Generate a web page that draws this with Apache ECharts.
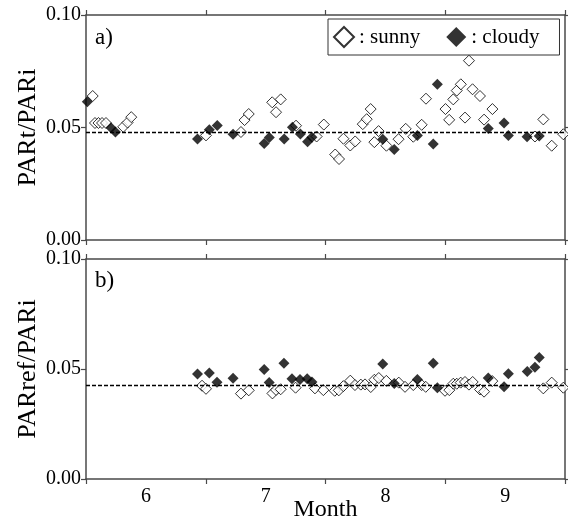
<!DOCTYPE html>
<html>
<head>
<meta charset="utf-8">
<script src="https://cdn.jsdelivr.net/npm/echarts@6/dist/echarts.min.js"></script>
<style>
  html, body { margin: 0; padding: 0; background: #fff; }
  #chart { width: 568px; height: 523px; }
</style>
</head>
<body>
<div id="chart"></div>
<script>
// ---- data ----
const months = ['6', '7', '8', '9'];
const yTicks = [0, 0.05, 0.10];

const aSunnyX = [6.056, 6.075, 6.104, 6.134, 6.167, 6.311, 6.347, 6.378, 7.002, 7.294, 7.324, 7.359, 7.555, 7.587, 7.626, 7.754, 7.926, 7.986, 8.081, 8.113, 8.150, 8.207, 8.248, 8.311, 8.344, 8.377, 8.408, 8.443, 8.509, 8.610, 8.670, 8.733, 8.803, 8.839, 9.002, 9.033, 9.067, 9.096, 9.130, 9.165, 9.198, 9.228, 9.290, 9.324, 9.394, 9.749, 9.819, 9.889, 9.986];
const aSunnyY = [0.064, 0.052, 0.052, 0.052, 0.052, 0.0503, 0.0522, 0.0546, 0.0465, 0.048, 0.0533, 0.056, 0.0612, 0.0568, 0.0625, 0.0508, 0.046, 0.0513, 0.038, 0.036, 0.045, 0.042, 0.0438, 0.0515, 0.0537, 0.0582, 0.0435, 0.0484, 0.0419, 0.0448, 0.0494, 0.0459, 0.0512, 0.0628, 0.0582, 0.0534, 0.0625, 0.0664, 0.0692, 0.0544, 0.0797, 0.067, 0.064, 0.0535, 0.0582, 0.046, 0.0536, 0.0419, 0.047];

const aCloudyX = [6.011, 6.209, 6.246, 6.931, 7.030, 7.096, 7.228, 7.488, 7.531, 7.655, 7.724, 7.790, 7.850, 7.887, 8.478, 8.574, 8.767, 8.900, 8.934, 9.359, 9.491, 9.527, 9.683, 9.785];
const aCloudyY = [0.0615, 0.0499, 0.048, 0.0449, 0.049, 0.0509, 0.047, 0.0429, 0.0456, 0.0449, 0.0501, 0.0471, 0.0437, 0.0457, 0.0448, 0.0402, 0.0464, 0.0427, 0.0692, 0.0496, 0.052, 0.0464, 0.0459, 0.0462];

const bSunnyX = [6.969, 7.002, 7.294, 7.359, 7.557, 7.587, 7.626, 7.750, 7.912, 7.982, 8.077, 8.111, 8.149, 8.207, 8.246, 8.295, 8.330, 8.378, 8.408, 8.445, 8.508, 8.612, 8.664, 8.733, 8.803, 8.837, 8.998, 9.034, 9.067, 9.096, 9.129, 9.165, 9.198, 9.229, 9.290, 9.324, 9.393, 9.819, 9.889, 9.986];
const bSunnyY = [0.0424, 0.041, 0.0388, 0.0403, 0.0389, 0.0405, 0.0408, 0.0415, 0.0412, 0.0404, 0.0401, 0.0403, 0.0422, 0.0447, 0.0427, 0.0429, 0.043, 0.0418, 0.0451, 0.0459, 0.0446, 0.0438, 0.0419, 0.0427, 0.0427, 0.0419, 0.0401, 0.0404, 0.0433, 0.0433, 0.0438, 0.0441, 0.0429, 0.0441, 0.0407, 0.0397, 0.0445, 0.0412, 0.0438, 0.0415];

const bCloudyX = [6.931, 7.030, 7.094, 7.228, 7.488, 7.530, 7.653, 7.720, 7.787, 7.847, 7.887, 8.478, 8.574, 8.767, 8.900, 8.934, 9.359, 9.491, 9.527, 9.685, 9.749, 9.785];
const bCloudyY = [0.0477, 0.0482, 0.044, 0.0458, 0.0498, 0.0439, 0.0526, 0.0456, 0.0452, 0.0456, 0.0441, 0.0523, 0.0434, 0.0452, 0.0526, 0.0415, 0.0459, 0.0419, 0.0478, 0.0489, 0.0508, 0.0552];

const meanA = 0.0478;
const meanB = 0.0427;

// ---- chart ----
const FONT = 'Liberation Serif';
const AX = '#4a4a4a';
const zip = (xs, ys) => xs.map((x, i) => [x, ys[i]]);

const chart = echarts.init(document.getElementById('chart'), null, { renderer: 'canvas' });

const axLine = { show: true, onZero: false, lineStyle: { color: AX, width: 1.5 } };
const axTick = { show: true, length: 5, inside: false, lineStyle: { color: AX, width: 1.2 } };

function topX(gi) {
  return { gridIndex: gi, type: 'value', position: 'top', min: 6, max: 10, interval: 1,
    axisLine: axLine, axisTick: axTick, axisLabel: { show: false }, splitLine: { show: false } };
}
function botX(gi, labels) {
  const o = { gridIndex: gi, type: 'category', position: 'bottom', data: months, boundaryGap: true,
    axisLine: axLine, axisTick: Object.assign({ interval: 0, alignWithLabel: false }, axTick),
    axisLabel: { show: labels, interval: 0, margin: 8, color: '#000', fontFamily: FONT, fontSize: 20 },
    splitLine: { show: false } };
  if (labels) {
    o.name = 'Month'; o.nameLocation = 'middle'; o.nameGap = 19; o.nameMoveOverlap = false;
    o.nameTextStyle = { color: '#000', fontFamily: FONT, fontSize: 24 };
  }
  return o;
}
function leftY(gi, name) {
  return { gridIndex: gi, type: 'value', position: 'left', min: yTicks[0], max: yTicks[2], interval: yTicks[1],
    axisLine: axLine, axisTick: axTick,
    axisLabel: { margin: 5, color: '#000', fontFamily: FONT, fontSize: 20, formatter: v => v.toFixed(2) },
    splitLine: { show: false },
    name: name, nameLocation: 'middle', nameGap: 45, nameMoveOverlap: false,
    nameTextStyle: { color: '#000', fontFamily: FONT, fontSize: 26 } };
}
function rightY(gi) {
  return { gridIndex: gi, type: 'value', position: 'right', min: yTicks[0], max: yTicks[2], interval: yTicks[1],
    axisLine: axLine, axisTick: axTick, axisLabel: { show: false }, splitLine: { show: false } };
}

const sunnyStyle = { color: '#fff', borderColor: '#000', borderWidth: 1 };
const cloudyStyle = { color: '#000', borderColor: '#000', borderWidth: 0 };

function meanLine(v) {
  return { silent: true, symbol: 'none', z: 10, precision: 5, label: { show: false },
    lineStyle: { color: '#000', type: [4, 2], width: 1.3 },
    data: [{ yAxis: v }] };
}

const option = {
  animation: false,
  backgroundColor: '#fff',
  textStyle: { fontFamily: FONT },
  grid: [
    { left: 86, top: 15, width: 479, height: 225 },
    { left: 86, top: 259, width: 479, height: 225 }
  ],
  xAxis: [topX(0), botX(0, false), topX(1), botX(1, true)],
  yAxis: [leftY(0, 'PARt/PARi'), rightY(0), leftY(1, 'PARref/PARi'), rightY(1)],
  legend: {
    data: ['sunny', 'cloudy'],
    left: 328, top: 19,
    orient: 'horizontal',
    icon: 'diamond',
    itemWidth: 20, itemHeight: 20,
    itemGap: 26,
    padding: [7, 20, 7, 5],
    borderColor: '#333', borderWidth: 1,
    formatter: n => ': ' + n,
    textStyle: { color: '#000', fontFamily: FONT, fontSize: 21 },
    selectedMode: false
  },
  graphic: [
    { type: 'text', left: 95, top: 26, style: { text: 'a)', fontFamily: FONT, fontSize: 23, fill: '#000' } },
    { type: 'text', left: 95, top: 269, style: { text: 'b)', fontFamily: FONT, fontSize: 23, fill: '#000' } }
  ],
  series: [
    { name: 'sunny', type: 'scatter', xAxisIndex: 0, yAxisIndex: 0, symbol: 'diamond', symbolSize: 11,
      itemStyle: sunnyStyle, data: zip(aSunnyX, aSunnyY) },
    { name: 'cloudy', type: 'scatter', xAxisIndex: 0, yAxisIndex: 0, symbol: 'diamond', symbolSize: 11,
      itemStyle: cloudyStyle, data: zip(aCloudyX, aCloudyY), markLine: meanLine(meanA) },
    { name: 'sunny', type: 'scatter', xAxisIndex: 2, yAxisIndex: 2, symbol: 'diamond', symbolSize: 11,
      itemStyle: sunnyStyle, data: zip(bSunnyX, bSunnyY) },
    { name: 'cloudy', type: 'scatter', xAxisIndex: 2, yAxisIndex: 2, symbol: 'diamond', symbolSize: 11,
      itemStyle: cloudyStyle, data: zip(bCloudyX, bCloudyY), markLine: meanLine(meanB) }
  ]
};
chart.setOption(option);
</script>
</body>
</html>
